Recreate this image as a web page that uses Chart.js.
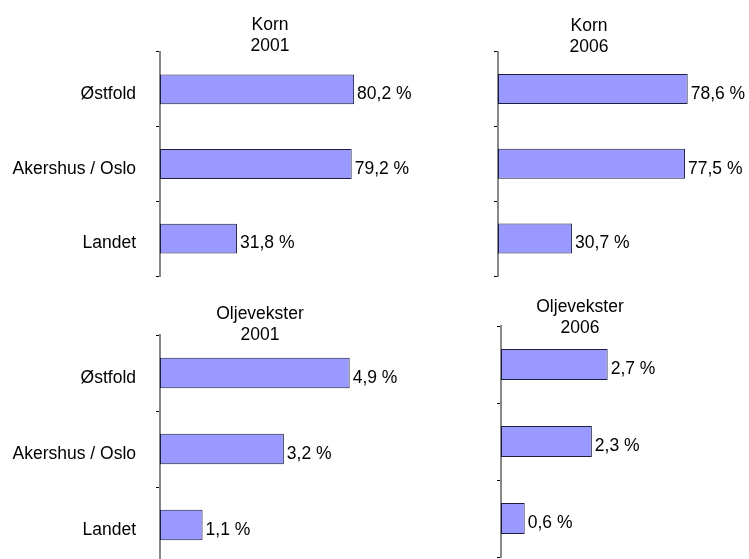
<!DOCTYPE html>
<html>
<head>
<meta charset="utf-8">
<script src="https://cdn.jsdelivr.net/npm/chart.js@4.4.1/dist/chart.umd.min.js"></script>
<style>
body { margin: 0; background: #fff; width: 749px; height: 559px; overflow: hidden; position: relative; }
canvas { position: absolute; }
</style>
</head>
<body>
<canvas id="c1"></canvas>
<canvas id="c2"></canvas>
<canvas id="c3"></canvas>
<canvas id="c4"></canvas>
<script>
// data
const categories = ['Østfold', 'Akershus / Oslo', 'Landet'];
const korn2001 = [80.2, 79.2, 31.8];
const korn2006 = [78.6, 77.5, 30.7];
const olje2001 = [4.9, 3.2, 1.1];
const olje2006 = [2.7, 2.3, 0.6];

const FONT = '"Liberation Sans", Arial, sans-serif';
const FSIZE = 17.5;

// labels after each bar, "80,2 %"
const valueLabels = {
    id: 'valueLabels',
    afterDatasetsDraw(chart) {
        const ctx = chart.ctx;
        ctx.save();
        ctx.font = FSIZE + 'px ' + FONT;
        ctx.fillStyle = '#000';
        ctx.textBaseline = 'middle';
        chart.getDatasetMeta(0).data.forEach((bar, i) => {
            const v = chart.data.datasets[0].data[i];
            ctx.fillText(v.toFixed(1).replace('.', ',') + ' %', bar.x + 3, bar.y + 5);
        });
        ctx.restore();
    }
};

function makePanel(id, box, values, title, max, showLabels) {
    const cv = document.getElementById(id);
    cv.width = box.w;
    cv.height = box.h;
    cv.style.left = box.x + 'px';
    cv.style.top = box.y + 'px';
    new Chart(cv.getContext('2d'), {
        type: 'bar',
        data: {
            labels: categories,
            datasets: [{
                data: values,
                backgroundColor: '#9999FF',
                borderColor: '#1c1c3c',
                borderWidth: 1,
                borderSkipped: false,
                categoryPercentage: 1,
                barPercentage: 0.4
            }]
        },
        options: {
            indexAxis: 'y',
            responsive: false,
            animation: false,
            events: [],
            layout: { padding: { top: 0, left: 0, right: 0, bottom: box.padBottom } },
            plugins: {
                legend: { display: false },
                tooltip: { enabled: false },
                title: {
                    display: true,
                    text: title,
                    color: '#000',
                    font: { family: FONT, size: FSIZE, weight: 'normal', lineHeight: 1.2 },
                    padding: { top: box.titleTop, bottom: box.titleBottom }
                }
            },
            scales: {
                x: { display: false, min: 0, max: max },
                y: {
                    offset: true,
                    grid: { offset: true, drawOnChartArea: false, tickLength: 4, color: '#000' },
                    border: { color: '#888', width: 2 },
                    ticks: {
                        display: showLabels,
                        color: '#000',
                        padding: 20,
                        labelOffset: 5,
                        font: { family: FONT, size: FSIZE }
                    },
                    afterFit(scale) {
                        scale.width = box.axisX - box.x;
                        scale.paddingTop = 0;
                        scale.paddingBottom = 0;
                    }
                }
            }
        },
        plugins: [valueLabels]
    });
}

makePanel('c1', { x: 0, y: 0, w: 540, h: 280, axisX: 160, padBottom: 4, titleTop: 14.5, titleBottom: -4.5 },
    korn2001, ['Korn', '2001'], 157, true);
makePanel('c2', { x: 429, y: 0, w: 320, h: 280, axisX: 498, padBottom: 4, titleTop: 15.5, titleBottom: -6 },
    korn2006, ['Korn', '2006'], 104, false);
makePanel('c3', { x: 0, y: 280, w: 520, h: 290, axisX: 160, padBottom: 7, titleTop: 23.5, titleBottom: -10.5 },
    olje2001, ['Oljevekster', '2001'], 9.3, true);
makePanel('c4', { x: 420, y: 280, w: 320, h: 290, axisX: 501, padBottom: 13, titleTop: 16.5, titleBottom: -12.5 },
    olje2006, ['Oljevekster', '2006'], 6.05, false);
</script>
</body>
</html>
